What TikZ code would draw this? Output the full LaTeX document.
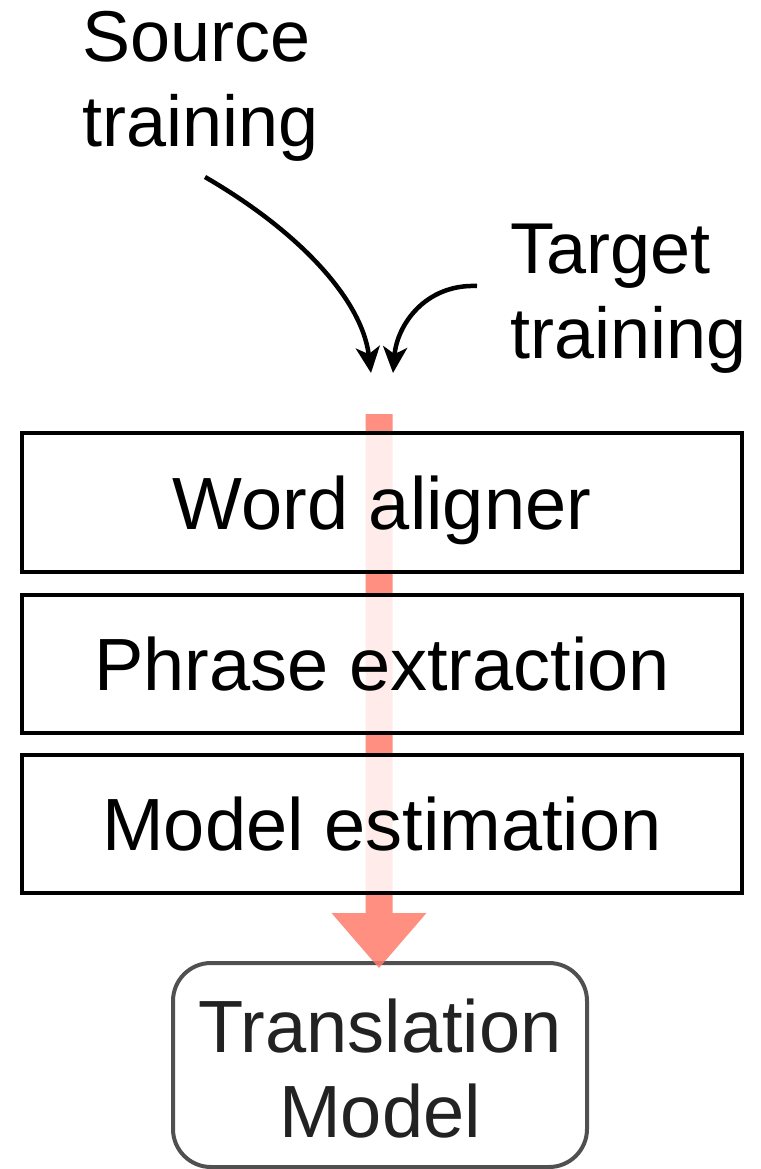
\documentclass[tikz,border=0pt]{standalone}
\usepackage{fontspec}
\setmainfont{Liberation Sans}
\usetikzlibrary{arrows.meta,calc}

\definecolor{flowsalmon}{RGB}{255,123,106}
\definecolor{tmgray}{RGB}{80,80,80}
\definecolor{tmtext}{RGB}{34,34,34}

\tikzset{
  labeltext/.style={anchor=base west, inner sep=0pt, font=\fontsize{72}{85}\selectfont},
  stagebox/.style={draw=black, line width=4.5pt, fill=white, fill opacity=0.84,
    text opacity=1, minimum width=720pt, inner sep=0pt,
    text height=53pt, text depth=0pt, font=\fontsize{74}{85}\selectfont},
  modelbox/.style={draw=tmgray, line width=4pt, rounded corners=38pt, fill=white,
    minimum width=414pt, minimum height=204pt, inner sep=0pt, text=tmtext,
    text height=53pt, text depth=79pt, font=\fontsize{74}{85}\selectfont},
  feed/.style={draw=black, line width=4.5pt,
    -{Stealth[length=26pt, width=24pt, inset=7pt]}},
  flow/.style={fill=flowsalmon, fill opacity=0.85}
}

\begin{document}
\begin{tikzpicture}[x=1pt, y=-1pt]
  \useasboundingbox (0,0) rectangle (760,1169);

  % input labels
  \node[labeltext] (src) at (82,62)
    {\begin{tabular}[t]{@{}l@{}}Source\\training\end{tabular}};
  \node[labeltext] (tgt) at (510,273)
    {\begin{tabular}[t]{@{}l@{}}Target\\training\end{tabular}};

  % curved feeds into the pipeline
  \coordinate (srcstart) at (205,177);
  \coordinate (srcend) at (371,373);
  \coordinate (tgtstart) at (477,286);
  \coordinate (tgtend) at (393,373);
  \draw[feed] (srcstart) .. controls (300,232) and (362,300) .. (srcend);
  \draw[feed] (tgtstart) .. controls (425,284) and (397,325) .. (tgtend);

  % output model
  \node[modelbox] (tm) at (380,1065)
    {\begin{tabular}[t]{@{}c@{}}Translation\\Model\end{tabular}};

  % wide flow arrow through the pipeline
  \coordinate (ftop) at (379,414);
  \coordinate (ftip) at (379,968);
  \fill[flow] ($(ftop)+(-13.5,0)$) -- ($(ftip)+(-13.5,-55)$)
    -- ($(ftip)+(-47.5,-55)$) -- (ftip) -- ($(ftip)+(47.5,-55)$)
    -- ($(ftip)+(13.5,-55)$) -- ($(ftop)+(13.5,0)$) -- cycle;

  % pipeline stages
  \node[stagebox, minimum height=139pt] (wa) at (382,502.5) {Word aligner};
  \node[stagebox, minimum height=138pt] (pe) at (382,664) {Phrase extraction};
  \node[stagebox, minimum height=138pt] (me) at (382,824) {Model estimation};
\end{tikzpicture}
\end{document}
